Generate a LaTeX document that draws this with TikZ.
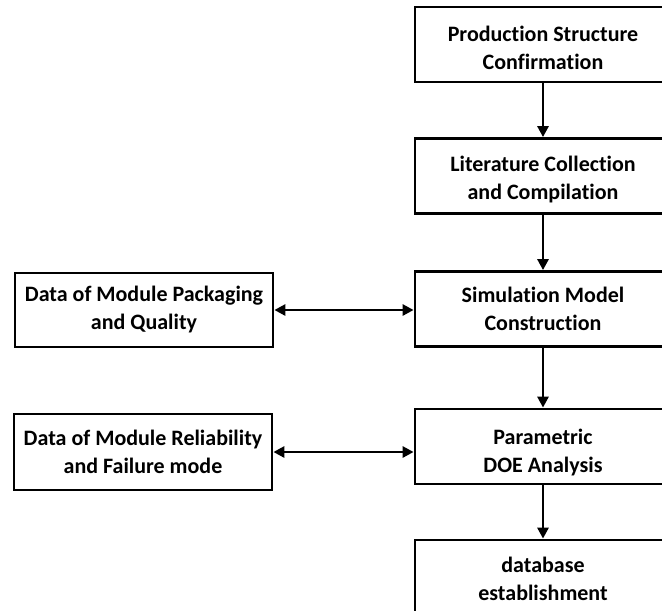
\documentclass[tikz,border=0pt]{standalone}
\usepackage{fontspec}
\setmainfont{Carlito}[Ligatures=NoCommon]
\usetikzlibrary{arrows.meta}
\begin{document}
\begin{tikzpicture}[x=1pt,y=-1pt,
  box/.style={draw=black,line width=2.8pt,inner sep=0pt},
  txt/.style={inner sep=0pt,align=center,
    font=\bfseries\fontsize{22}{28}\selectfont,text=black},
  rbox/.style={box,minimum width=256pt,minimum height=75pt},
  lbox/.style={box,minimum width=258pt,minimum height=75pt},
  arr/.style={line width=2.8pt,-{Triangle[width=11pt,length=11pt]}},
  barr/.style={line width=2.8pt,{Triangle[width=11pt,length=11pt]}-{Triangle[width=11pt,length=11pt]}}]
\useasboundingbox (0,0) rectangle (662,611);
\begin{scope}
\clip (0,0) rectangle (662,611);
\node[rbox] (a) at (543,44.5) {};
\node[rbox] (b) at (543,176) {};
\node[rbox] (c) at (543,309) {};
\node[rbox] (d) at (543,446.5) {};
\node[rbox,minimum height=78pt] (e) at (543,579) {};
\node[lbox,minimum height=74pt] (p) at (144,310) {};
\node[lbox,minimum height=76pt] (r) at (143,452) {};
\node[txt] (at) at ([yshift=-3pt]a.center) {Production Structure\\Confirmation};
\node[txt] (bt) at ([yshift=-4pt]b.center) {Literature Collection\\and Compilation};
\node[txt] (ct) at (c.center) {Simulation Model\\Construction};
\node[txt] (dt) at ([yshift=-6pt]d.center) {Parametric\\DOE Analysis};
\node[txt] (et) at (e.center) {database\\establishment};
\node[txt] (pt) at (p.center) {Data of Module Packaging\\and Quality};
\node[txt] (rt) at (r.center) {Data of Module Reliability\\and Failure mode};
\draw[arr] (a) -- (b);
\draw[arr] (b) -- (c);
\draw[arr] (c) -- (d);
\draw[arr] (d) -- (e);
\draw[barr] (p.east) -- (p.east -| c.west);
\draw[barr] (r.east) -- (r.east -| d.west);
\end{scope}
\end{tikzpicture}
\end{document}
